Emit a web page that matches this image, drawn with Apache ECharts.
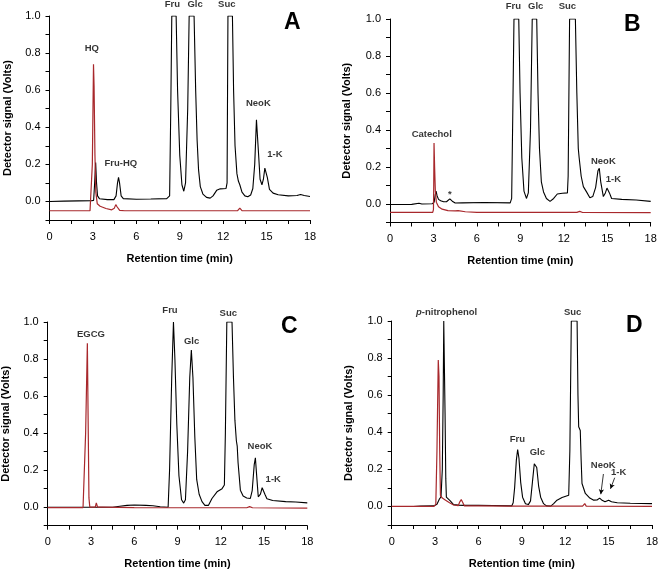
<!DOCTYPE html>
<html><head><meta charset="utf-8">
<script src="https://cdn.jsdelivr.net/npm/echarts@6/dist/echarts.min.js"></script>
<style>html,body{margin:0;padding:0;background:#fff}#c{width:658px;height:571px}</style>
</head><body><div id="c"></div>
<script>
// ---- data: [retention time (min), detector signal (V)] ----
const A_black = [[0,0.0],[1,0.002],[2,0.003],[2.9,0.004],[3.05,0.006],[3.12,0.1],[3.19,0.21],[3.25,0.1],[3.32,0.03],[3.45,0.015],[4.0,0.01],[4.45,0.01],[4.6,0.03],[4.7,0.1],[4.77,0.13],[4.84,0.1],[4.95,0.03],[5.1,0.015],[6,0.012],[7,0.013],[8.1,0.015],[8.3,0.03],[8.38,0.5],[8.45,1.0],[8.75,1.0],[8.85,0.6],[9.0,0.25],[9.15,0.09],[9.28,0.055],[9.4,0.1],[9.55,0.5],[9.65,1.0],[9.99,1.0],[10.1,0.6],[10.2,0.33],[10.3,0.17],[10.42,0.08],[10.6,0.04],[10.85,0.022],[11.1,0.018],[11.3,0.03],[11.55,0.06],[11.8,0.068],[12.2,0.07],[12.27,0.1],[12.33,1.0],[12.64,1.0],[12.72,0.6],[12.82,0.3],[12.95,0.15],[13.05,0.11],[13.15,0.09],[13.3,0.05],[13.5,0.03],[13.7,0.025],[13.9,0.035],[14.05,0.07],[14.18,0.2],[14.3,0.44],[14.35,0.447],[14.45,0.25],[14.55,0.12],[14.68,0.09],[14.78,0.12],[14.88,0.18],[14.93,0.188],[15.05,0.13],[15.2,0.065],[15.45,0.045],[15.8,0.036],[16.5,0.03],[17.1,0.032],[17.35,0.038],[17.6,0.032],[18,0.027]];
const A_red = [[0,-0.05],[2.8,-0.05],[2.88,-0.04],[2.96,0.2],[3.04,0.74],[3.08,0.62],[3.14,0.25],[3.2,0.05],[3.3,-0.012],[3.5,-0.026],[3.9,-0.038],[4.3,-0.045],[4.48,-0.036],[4.58,-0.017],[4.68,-0.03],[4.85,-0.048],[5.2,-0.05],[13.0,-0.05],[13.15,-0.036],[13.3,-0.05],[18,-0.05]];

const B_black = [[0,-0.003],[1.5,-0.002],[2.0,0.004],[2.2,0.0],[2.9,0.001],[3.05,0.01],[3.12,0.05],[3.18,0.07],[3.25,0.045],[3.35,0.025],[3.5,0.018],[3.7,0.012],[3.9,0.012],[4.0,0.02],[4.13,0.028],[4.3,0.015],[4.5,0.005],[5.0,0.006],[6.5,0.008],[8.3,0.006],[8.4,0.03],[8.48,0.5],[8.56,1.0],[8.89,1.0],[8.98,0.6],[9.1,0.25],[9.25,0.07],[9.42,0.03],[9.55,0.06],[9.7,0.4],[9.82,1.0],[10.13,1.0],[10.22,0.6],[10.32,0.3],[10.45,0.12],[10.6,0.065],[10.8,0.03],[11.05,0.014],[11.3,0.03],[11.55,0.054],[11.9,0.058],[12.25,0.06],[12.3,0.15],[12.4,1.0],[12.8,1.0],[12.9,0.6],[13.0,0.3],[13.06,0.25],[13.12,0.24],[13.2,0.15],[13.35,0.094],[13.56,0.067],[13.8,0.034],[14.0,0.04],[14.2,0.09],[14.36,0.18],[14.45,0.193],[14.55,0.12],[14.73,0.04],[14.87,0.06],[14.98,0.086],[15.03,0.088],[15.15,0.06],[15.3,0.03],[16,0.025],[17,0.022],[18,0.014]];
const B_red = [[0,-0.045],[2.95,-0.045],[3.0,-0.03],[3.02,0.1],[3.04,0.33],[3.08,0.2],[3.13,0.07],[3.2,0.01],[3.35,-0.015],[3.6,-0.028],[4.0,-0.036],[4.5,-0.037],[4.7,-0.036],[5.2,-0.042],[6,-0.045],[12.9,-0.045],[13.1,-0.04],[13.3,-0.046],[18,-0.047]];

const C_black = [[0,0.0],[4.5,0.0],[5.0,0.005],[5.5,0.01],[6.0,0.012],[6.8,0.01],[7.3,0.008],[7.8,0.002],[8.35,0.0],[8.45,0.2],[8.6,0.7],[8.72,1.0],[8.82,0.8],[8.95,0.45],[9.1,0.17],[9.28,0.04],[9.43,0.022],[9.55,0.04],[9.7,0.3],[9.85,0.7],[9.96,0.849],[10.07,0.7],[10.2,0.38],[10.33,0.15],[10.5,0.07],[10.7,0.03],[10.9,0.01],[11.15,0.01],[11.39,0.047],[11.74,0.083],[12.09,0.1],[12.25,0.12],[12.32,0.4],[12.42,1.0],[12.78,1.0],[12.88,0.7],[12.98,0.47],[13.08,0.36],[13.14,0.33],[13.2,0.24],[13.36,0.092],[13.55,0.06],[13.8,0.05],[14.05,0.047],[14.18,0.09],[14.32,0.23],[14.4,0.267],[14.48,0.18],[14.6,0.056],[14.75,0.07],[14.87,0.105],[14.93,0.11],[15.06,0.07],[15.2,0.046],[15.6,0.036],[16.5,0.03],[17.2,0.028],[18,0.023]];
const C_red = [[0,-0.002],[2.45,-0.002],[2.52,0.0],[2.63,0.4],[2.75,0.885],[2.8,0.5],[2.86,0.05],[2.92,0.0],[3.3,0.0],[3.37,0.023],[3.46,0.0],[3.8,0.0],[6,-0.002],[13.8,-0.003],[14.0,0.003],[14.2,-0.003],[18,-0.005]];

const D_black = [[0,0.0],[1.5,0.0],[2.0,0.002],[2.9,0.003],[3.13,0.012],[3.3,0.04],[3.41,0.052],[3.5,0.2],[3.56,0.6],[3.6,1.0],[3.65,1.0],[3.69,0.5],[3.74,0.15],[3.78,0.05],[4.05,0.03],[4.28,0.01],[4.6,0.007],[5.0,0.006],[6,0.006],[7,0.005],[8.3,0.003],[8.4,0.02],[8.5,0.1],[8.62,0.25],[8.71,0.307],[8.8,0.26],[8.92,0.13],[9.05,0.05],[9.25,0.015],[9.45,0.01],[9.6,0.03],[9.73,0.13],[9.86,0.23],[9.93,0.24],[10.03,0.21],[10.16,0.11],[10.3,0.05],[10.5,0.015],[10.7,0.003],[11.0,0.002],[11.2,0.015],[11.43,0.034],[11.78,0.048],[12.24,0.06],[12.32,0.3],[12.42,1.0],[12.82,1.0],[12.88,0.6],[12.93,0.43],[13.04,0.41],[13.1,0.25],[13.16,0.124],[13.39,0.07],[13.7,0.045],[13.97,0.034],[14.2,0.035],[14.38,0.045],[14.55,0.033],[14.75,0.025],[14.88,0.03],[15.0,0.034],[15.2,0.025],[15.6,0.02],[16.5,0.017],[18,0.015]];
const D_red = [[0,0.0],[2.9,0.0],[3.05,0.01],[3.13,0.3],[3.22,0.79],[3.27,0.7],[3.32,0.3],[3.37,0.06],[3.5,0.045],[3.7,0.035],[4.0,0.02],[4.28,0.008],[4.6,0.004],[4.71,0.025],[4.81,0.037],[4.92,0.02],[5.03,0.003],[6,0.003],[8,0.002],[13.2,0.002],[13.35,0.015],[13.45,0.002],[18,0.0]];

// ---- peak annotations: [x, y, text] ----
const A_labels = [[2.92,0.825,'HQ'],[4.93,0.204,'Fru-HQ'],[8.49,1.061,'Fru'],[10.06,1.061,'Glc'],[12.25,1.061,'Suc'],[14.43,0.53,'NeoK'],[15.58,0.252,'1-K']];
const B_labels = [[8.52,1.067,'Fru'],[10.06,1.067,'Glc'],[12.25,1.067,'Suc'],[2.88,0.378,'Catechol'],[4.14,0.052,'*'],[14.73,0.229,'NeoK'],[15.42,0.133,'1-K']];
const C_labels = [[3.0,0.933,'EGCG'],[8.48,1.065,'Fru'],[9.98,0.894,'Glc'],[12.52,1.047,'Suc'],[14.72,0.33,'NeoK'],[15.64,0.151,'1-K']];
const D_labels = [[3.8,1.045,'{i|p}-nitrophenol'],[12.51,1.045,'Suc'],[8.69,0.361,'Fru'],[10.07,0.29,'Glc'],[14.63,0.222,'NeoK'],[15.69,0.186,'1-K']];
const D_arrows = [[[14.64,0.175],[14.46,0.066]],[[15.42,0.155],[15.13,0.095]]];

const panels = ['A','B','C','D'];
const xTickLabels = ['0','3','6','9','12','15','18'];
const yTickLabels = ['0.0','0.2','0.4','0.6','0.8','1.0'];

const grids = [
  {left:49.5, top:16, width:260.5, height:204},
  {left:390, top:19, width:260.7, height:203.5},
  {left:47.7, top:322, width:259.6, height:203.7},
  {left:391.7, top:321, width:260.3, height:204}
];
const yNameGaps = [36, 37.5, 36, 37.5];
const letterPos = [[293,23],[633,25],[290,327],[635,326]];

const blacks = [A_black,B_black,C_black,D_black];
const reds = [A_red,B_red,C_red,D_red];
const labels = [A_labels,B_labels,C_labels,D_labels];

const RED = '#a8282c';
const FONT = 'Liberation Sans, Arial, sans-serif';

const option = {
  animation:false,
  backgroundColor:'#fff',
  grid: grids.map(g => Object.assign({outerBoundsMode:'none', containLabel:false}, g)),
  xAxis: grids.map((g,i) => ({
    type:'value', gridIndex:i, min:0, max:18, interval:1.5,
    name:'Retention time (min)', nameLocation:'middle', nameGap:33,
    nameTextStyle:{fontFamily:FONT, fontSize:11, fontWeight:'bold', color:'#000'},
    axisLine:{show:true, onZero:false, lineStyle:{color:'#000', width:1}},
    axisTick:{show:true, inside:false, length:4, lineStyle:{color:'#000', width:1}},
    splitLine:{show:false},
    axisLabel:{fontFamily:FONT, fontSize:11, color:'#000', margin:11,
      formatter: v => { const k = Math.round(v/1.5); return k%2===0 ? xTickLabels[k/2] : ''; }}
  })),
  yAxis: grids.map((g,i) => ({
    type:'value', gridIndex:i, min:-0.1, max:1.0, interval:0.1,
    name:'Detector signal (Volts)', nameLocation:'middle', nameGap:yNameGaps[i],
    nameTextStyle:{fontFamily:FONT, fontSize:11, fontWeight:'bold', color:'#000'},
    axisLine:{show:true, onZero:false, lineStyle:{color:'#000', width:1}},
    axisTick:{show:true, inside:false, length:4, lineStyle:{color:'#000', width:1}},
    splitLine:{show:false},
    axisLabel:{fontFamily:FONT, fontSize:11, color:'#000', margin:9,
      formatter: v => { const k = Math.round(v*10); return (k>=0 && k%2===0) ? yTickLabels[k/2] : ''; }}
  })),
  series: [],
  graphic: letterPos.map((p,i) => ({
    type:'text', left:p[0]-9, top:p[1]-12,
    style:{text:panels[i], fontFamily:FONT, fontSize:23, fontWeight:'bold', fill:'#000'}
  }))
};

for (let i=0;i<4;i++){
  option.series.push({
    type:'line', xAxisIndex:i, yAxisIndex:i, data:blacks[i], showSymbol:false, symbol:'none',
    lineStyle:{color:'#000', width:1.1}, z:2, silent:true
  });
  option.series.push({
    type:'line', xAxisIndex:i, yAxisIndex:i, data:reds[i], showSymbol:false, symbol:'none',
    lineStyle:{color:RED, width:1.2}, z:3, silent:true
  });
  const ann = {
    type:'scatter', xAxisIndex:i, yAxisIndex:i, clip:false, silent:true,
    symbolSize:1, itemStyle:{color:'rgba(0,0,0,0)'},
    data: labels[i].map(l => ({value:[l[0],l[1]], label:{formatter:l[2]}})),
    label:{show:true, position:'inside', fontFamily:FONT, fontSize:9.5, fontWeight:'bold', color:'#000',
      rich:{i:{fontFamily:FONT, fontSize:9.5, fontWeight:'bold', fontStyle:'italic', color:'#000'}}},
    z:5
  };
  if (i===3){
    ann.markLine = {
      silent:true, symbol:['none','arrow'], symbolSize:[4,5], animation:false,
      label:{show:false},
      lineStyle:{color:'#000', width:0.8, type:'solid'},
      data: D_arrows.map(a => [{coord:a[0]},{coord:a[1]}])
    };
  }
  option.series.push(ann);
}

const chart = echarts.init(document.getElementById('c'), null, {renderer:'canvas'});
chart.setOption(option);
</script></body></html>
